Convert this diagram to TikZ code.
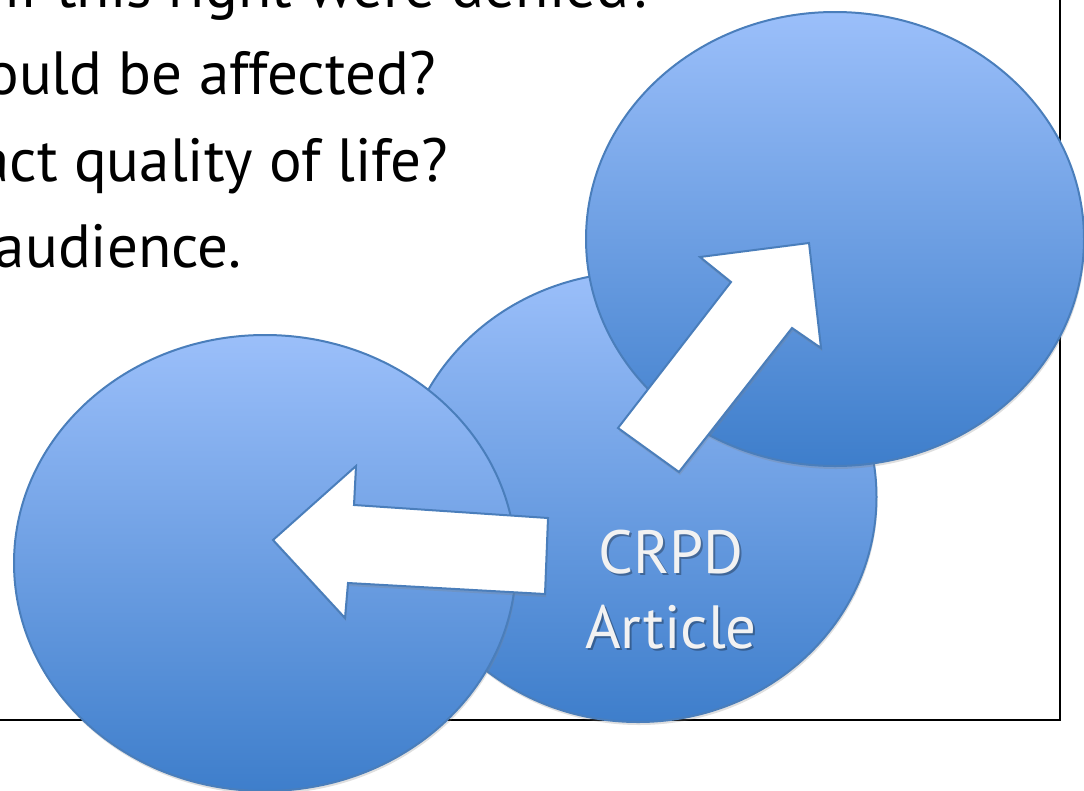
\documentclass[tikz,border=0pt]{standalone}
\usepackage{fontspec}
\setmainfont{PT Sans}
\usetikzlibrary{shapes.geometric,shadows}
\definecolor{bloblight}{RGB}{155,191,250}
\definecolor{blobdark}{RGB}{62,126,203}
\definecolor{blobedge}{RGB}{74,126,187}
\definecolor{labelgray}{RGB}{242,242,242}
\begin{document}
\begin{tikzpicture}[x=1pt,y=-1pt,
        blob/.style={ellipse, draw=blobedge, line width=2pt, top color=bloblight, bottom color=blobdark, inner sep=0pt,
            drop shadow={opacity=0.25, shadow xshift=1pt, shadow yshift=-3pt}},
        blockarrow/.style={draw=blobedge, line width=2pt, fill=white, line join=miter,
            drop shadow={opacity=0.25, shadow xshift=1pt, shadow yshift=-3pt}},
        question/.style={anchor=base east, inner sep=0pt, font=\fontsize{61}{72}\selectfont}]
    \useasboundingbox (0,0) rectangle (1084,790);
    \clip (0,0) rectangle (1084,790);
    \draw[line width=2pt] (-20,-20) rectangle (1060,720);

    \node[question] (q1) at (656,7) {if this right were denied?};
    \node[question] (q2) at (436,94) {ould be affected?};
    \node[question] (q3) at (448,181) {act quality of life?};
    \node[question] (q4) at (242,267) {audience.};

    \node[blob, minimum width=477pt, minimum height=450pt] (article) at (638,497) {};
    \node[blob, minimum width=502pt, minimum height=456pt] (left) at (265,563) {};
    \node[blob, minimum width=498pt, minimum height=454pt] (right) at (835,239) {};

    \draw[blockarrow] (273,540) -- (356,466) -- (354,505) -- (548,518) -- (545,594) -- (348,583) -- (345,618) -- cycle;
    \draw[blockarrow] (809,243) -- (821,348) -- (792,328) -- (679,472) -- (618,428) -- (731,282) -- (700,257) -- cycle;

    \node[align=center, text=black, opacity=0.3, font=\fontsize{61}{75}\selectfont] (labelshadow) at (673,592) {CRPD\\Article};
    \node[align=center, text=labelgray, font=\fontsize{61}{75}\selectfont] (label) at (671,590) {CRPD\\Article};
\end{tikzpicture}
\end{document}
